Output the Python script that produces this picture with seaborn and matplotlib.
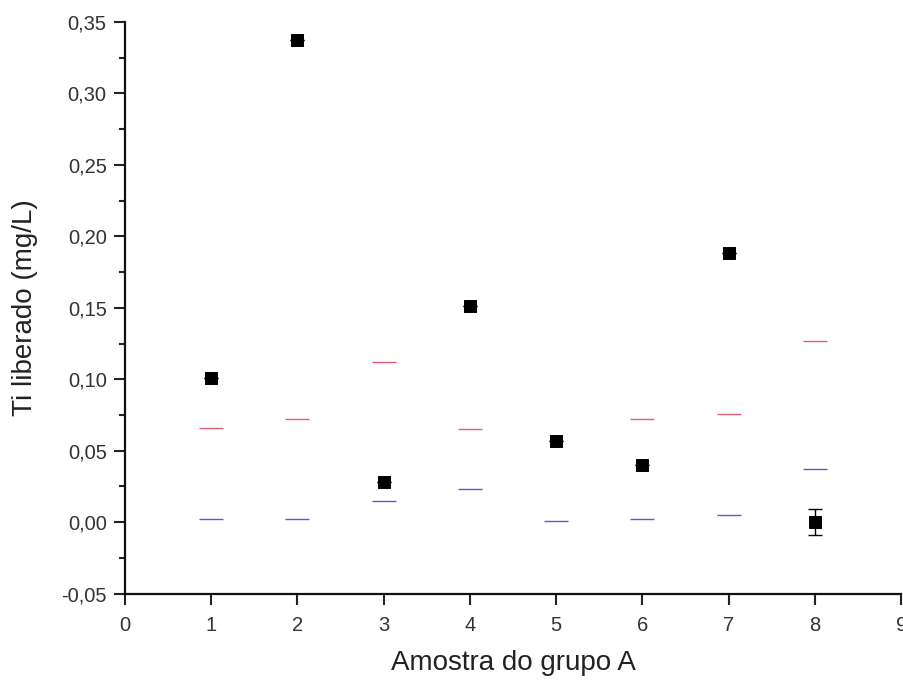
import numpy as np
import pandas as pd
import matplotlib
matplotlib.use("Agg")
import matplotlib.pyplot as plt
import seaborn as sns
from matplotlib.ticker import FuncFormatter, MultipleLocator

sns.set_style("ticks")
plt.rcParams['font.family'] = ['Liberation Sans', 'DejaVu Sans']

# Data
amostra = [1, 2, 3, 4, 5, 6, 7, 8]
ti_liberado = [0.101, 0.337, 0.028, 0.151, 0.057, 0.040, 0.188, 0.000]
erro = [0, 0, 0, 0, 0, 0, 0, 0.009]
lq_amostra = [1, 2, 3, 4, 6, 7, 8]
lq = [0.066, 0.072, 0.112, 0.065, 0.072, 0.076, 0.127]
ld = [0.002, 0.002, 0.015, 0.023, 0.001, 0.002, 0.005, 0.037]

df = pd.DataFrame({"amostra": amostra, "ti": ti_liberado, "erro": erro, "ld": ld})
df_lq = pd.DataFrame({"amostra": lq_amostra, "lq": lq})

fig = plt.figure(figsize=(9.04, 6.84), dpi=100)
ax = fig.add_axes([0.138, 0.132, 0.859, 0.836])

# limits (red / blue dashes)
sns.scatterplot(data=df_lq, x="amostra", y="lq", marker="_", s=300,
                color="#e0607a", linewidth=1.0, ax=ax, zorder=2)
sns.scatterplot(data=df, x="amostra", y="ld", marker="_", s=300,
                color="#5a5ad0", linewidth=1.0, ax=ax, zorder=2)

# error bars
ax.errorbar(df["amostra"], df["ti"], yerr=df["erro"], fmt="none",
            ecolor="black", elinewidth=1, capsize=5, capthick=1, zorder=3)
sns.scatterplot(data=df, x="amostra", y="ti", marker="s", s=75,
                color="black", edgecolor="black", ax=ax, zorder=4)

ax.set_xlim(0, 9)
ax.set_ylim(-0.05, 0.35)
ax.xaxis.set_major_locator(MultipleLocator(1))
ax.yaxis.set_major_locator(MultipleLocator(0.05))
ax.yaxis.set_minor_locator(MultipleLocator(0.025))
ax.yaxis.set_major_formatter(FuncFormatter(lambda v, p: f"{v:.2f}".replace(".", ",").replace("-0,00", "0,00")))

ax.tick_params(axis="both", which="major", direction="out", length=8, width=1.5,
               labelsize=14.5, colors="#222222", labelcolor="#333333", pad=5)
ax.tick_params(axis="x", which="major", pad=8)
ax.tick_params(axis="y", which="minor", direction="out", length=4, width=1.5, colors="#222222")

for s in ["top", "right"]:
    ax.spines[s].set_visible(False)
for s in ["left", "bottom"]:
    ax.spines[s].set_linewidth(1.6)
    ax.spines[s].set_color("#111111")

ax.set_xlabel("Amostra do grupo A", fontsize=20, color="#222222", labelpad=11)
ax.set_ylabel("Ti liberado (mg/L)", fontsize=20, color="#222222", labelpad=17)

fig.savefig("out.png", dpi=100)
